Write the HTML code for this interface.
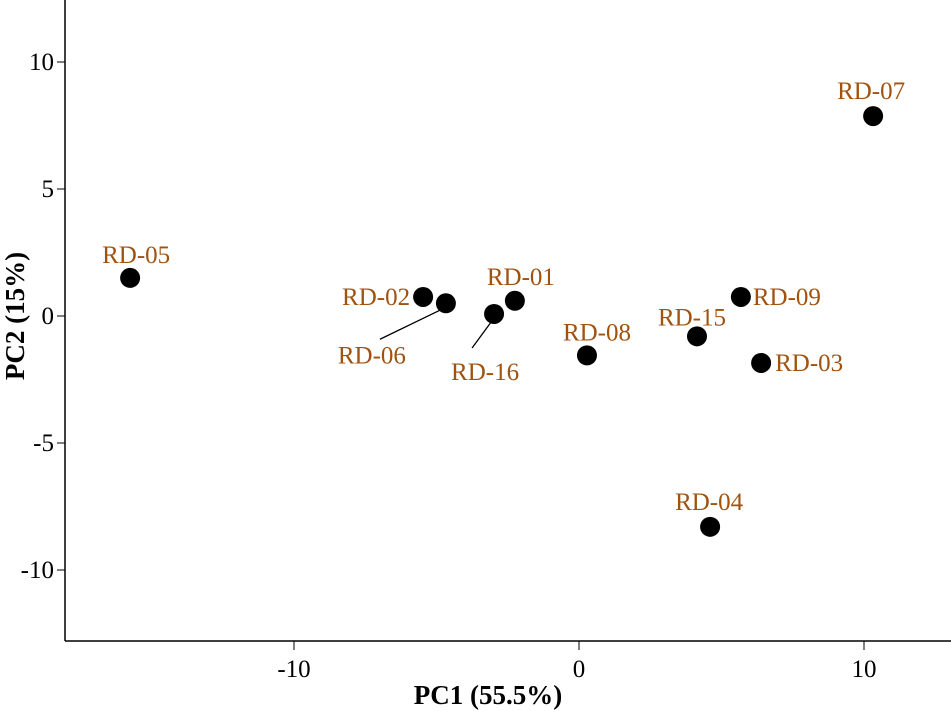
<!DOCTYPE html>
<html><head><meta charset="utf-8"><style>
body{margin:0;background:#fff}
svg{display:block;font-family:"Liberation Serif",serif}
</style></head><body>
<svg id="chart" width="951" height="711">
<g id="axes"></g><g id="marks"></g>
</svg>
<script>
const labels=["RD-05","RD-02","RD-06","RD-16","RD-01","RD-08","RD-15","RD-09","RD-03","RD-04","RD-07"];
const pc1=[-15.75,-5.47,-4.67,-2.98,-2.25,0.28,4.14,5.68,6.39,4.6,10.32];
const pc2=[1.5,0.75,0.5,0.08,0.6,-1.55,-0.8,0.75,-1.85,-8.3,7.87];
const xTicks=[-10,0,10];
const yTicks=[10,5,0,-5,-10];
// label placement offsets (styling, not data)
const lab={"RD-05":[6,-23,"middle"],"RD-02":[-13,0,"end"],"RD-06":[-74,52,"middle"],"RD-16":[-9,58,"middle"],"RD-01":[6,-24,"middle"],"RD-08":[10,-23,"middle"],"RD-15":[-5,-19,"middle"],"RD-09":[12,0,"start"],"RD-03":[14,0,"start"],"RD-04":[-1,-25,"middle"],"RD-07":[-2,-25,"middle"]};
const leaders={"RD-06":[-66,36],"RD-16":[-22,34]};
const X=v=>579+v*28.5, Y=v=>316-v*25.4;
const NS="http://www.w3.org/2000/svg";
function mk(t,a,p,txt){const e=document.createElementNS(NS,t);for(const k in a)e.setAttribute(k,a[k]);if(txt!==undefined)e.textContent=txt;p.appendChild(e);return e;}
const ax=document.getElementById('axes'),mg=document.getElementById('marks');
let e=mk('line',{x1:65,y1:0,x2:65,y2:641,stroke:'#000','stroke-width':1.5},ax);

e=mk('line',{x1:65,y1:641,x2:951,y2:641,stroke:'#000','stroke-width':1.5},ax);

xTicks.forEach(t=>{
 e=mk('line',{x1:X(t),y1:641,x2:X(t),y2:650,stroke:'#000','stroke-width':1},ax);
 
 e=mk('text',{x:X(t),y:677,'text-anchor':'middle','font-size':25},ax,t);
 
});
yTicks.forEach(t=>{
 e=mk('line',{x1:57,y1:Y(t),x2:65,y2:Y(t),stroke:'#000','stroke-width':1},ax);
 
 e=mk('text',{x:54,y:Y(t)+8,'text-anchor':'end','font-size':25},ax,t);
 
});
e=mk('text',{x:488,y:704,'text-anchor':'middle','font-size':27,'font-weight':'bold'},ax,'PC1 (55.5%)');

e=mk('text',{x:0,y:0,'text-anchor':'middle','font-size':27,'font-weight':'bold',transform:'translate(24,316) rotate(-90)'},ax,'PC2 (15%)');

labels.forEach((l,i)=>{
 const cx=X(pc1[i]),cy=Y(pc2[i]);
 if(leaders[l]){e=mk('line',{x1:cx,y1:cy+4,x2:cx+leaders[l][0],y2:cy+leaders[l][1],stroke:'#000','stroke-width':1.3},mg);
  }
 e=mk('circle',{cx:cx,cy:cy,r:10,fill:'#000'},mg);
 
 const o=lab[l];
 e=mk('text',{x:cx+o[0],y:cy+o[1]+8,'text-anchor':o[2],'font-size':25,fill:'#a0520f'},mg,l);
 
});
</script>
</body></html>
